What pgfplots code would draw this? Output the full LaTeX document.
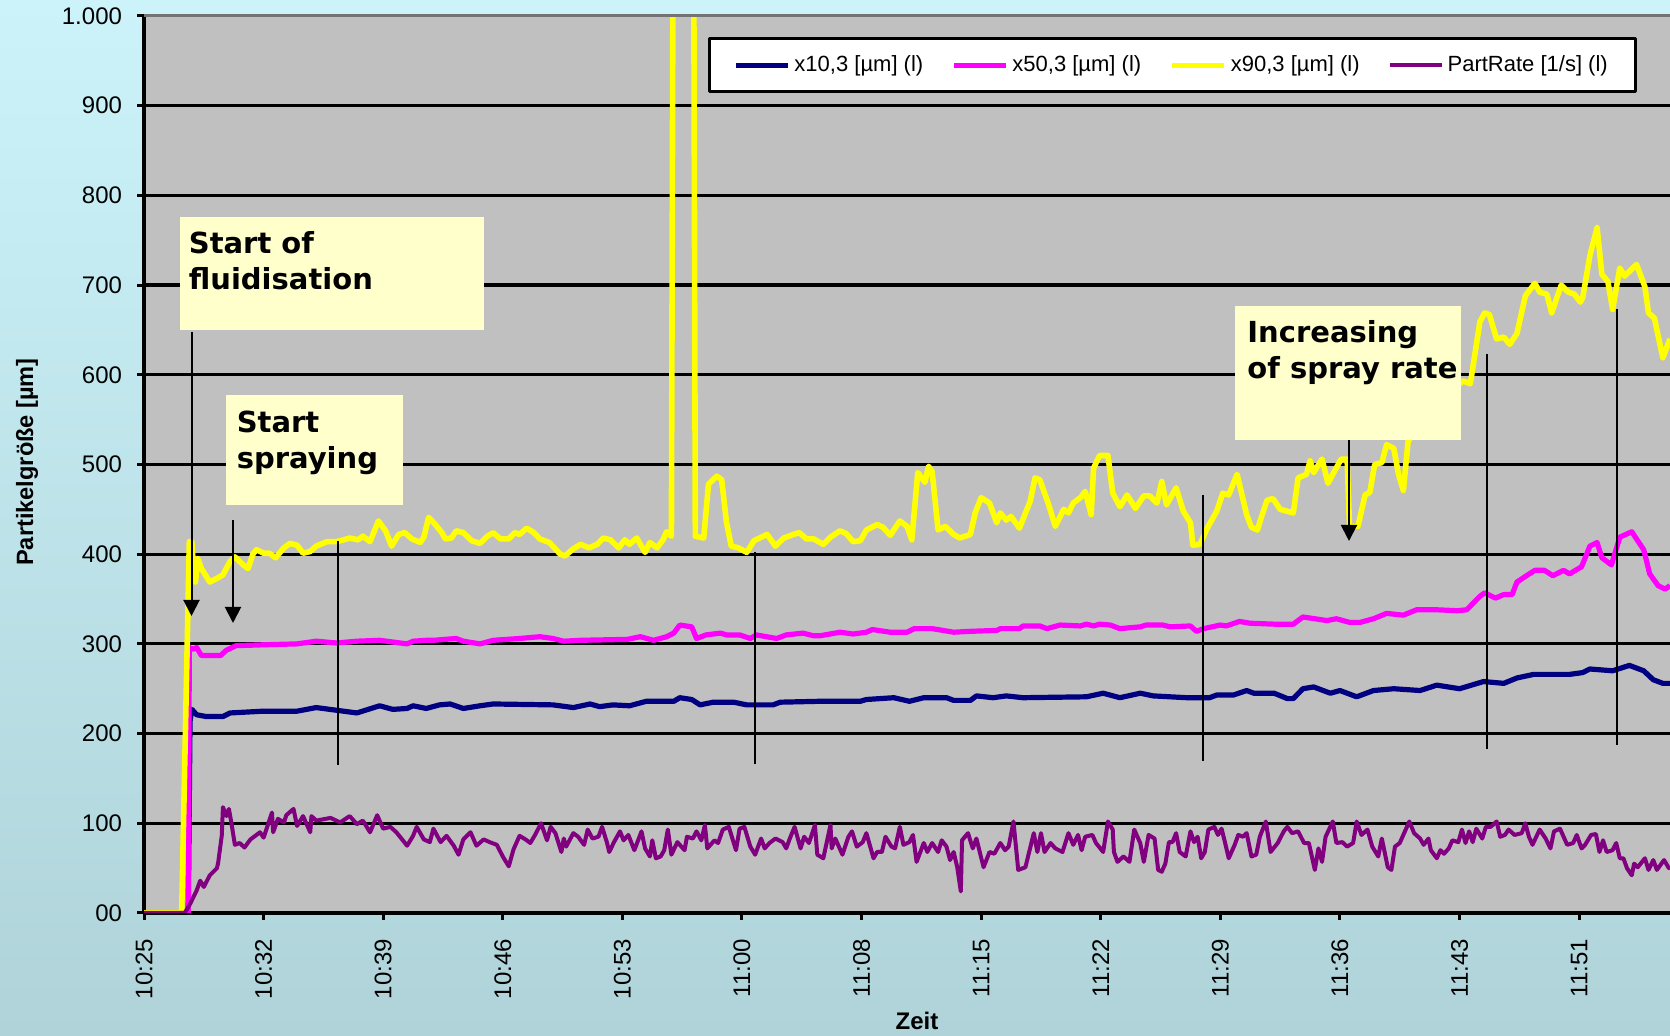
\documentclass[border=0pt]{standalone}
\usepackage{pgfplots}
\pgfplotsset{compat=1.18}
\usetikzlibrary{arrows.meta}
\usepackage{fontspec}
\setmainfont{Liberation Sans}
\newfontfamily\annotfont{DejaVu Sans}
\definecolor{bgtop}{RGB}{204,243,250}
\definecolor{bgbot}{RGB}{175,211,217}
\definecolor{plotgray}{RGB}{192,192,192}
\definecolor{notebox}{RGB}{255,255,204}
\definecolor{cnavy}{RGB}{0,0,128}
\definecolor{cmag}{RGB}{255,0,255}
\definecolor{cyel}{RGB}{255,255,0}
\definecolor{cpur}{RGB}{128,0,128}
\begin{document}
\begin{tikzpicture}[x=1bp,y=1bp]
\useasboundingbox (0,0) rectangle (835,518);
\shade[top color=bgtop, bottom color=bgbot] (0,0) rectangle (835,518);
\begin{axis}[
 at={(72bp,61.5bp)}, anchor=south west,
 scale only axis, width=763bp, height=448.5bp,
 xmin=0, xmax=12.76, ymin=0, ymax=1000,
 axis background/.style={fill=plotgray},
 axis x line*=bottom, axis y line*=left,
 axis line style={black, line width=2bp},
 xtick={0,...,12},
 xticklabels={10:25,10:32,10:39,10:46,10:53,11:00,11:08,11:15,11:22,11:29,11:36,11:43,11:51},
 ytick={0,100,...,900},
 yticklabels={00,100,200,300,400,500,600,700,800,900},
 extra y ticks={1000}, extra y tick labels={1.000}, extra y tick style={grid=none},
 ymajorgrids, major grid style={black, line width=1.6bp},
 tick align=outside, major tick length=3.5bp,
 tick style={black, line width=1.5bp},
 x tick label style={rotate=90, anchor=east, yshift=0bp, xshift=-6bp, font=\fontsize{12bp}{13bp}\selectfont},
 y tick label style={xshift=-4bp, font=\fontsize{12bp}{13bp}\selectfont},
 legend columns=4,
 legend cell align=left,
 legend style={at={(0.674,0.976)}, anchor=north, draw=black, line width=1.5bp, fill=white,
   font=\fontsize{11bp}{13bp}\selectfont, inner xsep=12bp, inner ysep=6.5bp,
   /tikz/every even column/.append style={column sep=12bp}},
 legend image code/.code={\draw[#1] (0bp,0bp) -- (26bp,0bp);},
 line join=round,
]
\addplot[cnavy, line width=2.6bp] coordinates {
(0,0) (0.31,0) (0.37,0) (0.385,214) (0.40,227) (0.44,221) (0.52,219) (0.66,219) (0.72,223) (1.0,225) (1.28,225) (1.44,229) (1.61,226) (1.78,223) (1.97,231) (2.08,227) (2.20,228) (2.25,231) (2.36,228) (2.47,232) (2.56,233) (2.67,228) (2.81,231) (2.92,233) (3.42,232) (3.59,229) (3.73,233) (3.81,230) (3.92,232) (4.06,231) (4.20,236) (4.43,236) (4.48,240) (4.58,238) (4.65,232) (4.76,235) (4.93,235) (5.04,232) (5.26,232) (5.32,235) (5.65,236) (5.99,236) (6.04,238) (6.27,240) (6.40,236) (6.52,240) (6.71,240) (6.77,237) (6.91,237) (6.96,242) (7.10,240) (7.21,242) (7.35,240) (7.88,241) (8.02,245) (8.16,240) (8.33,245) (8.44,242) (8.72,240) (8.91,240) (8.97,243) (9.11,243) (9.22,248) (9.28,245) (9.45,245) (9.56,239) (9.61,239) (9.69,250) (9.78,252) (9.92,245) (10.0,248) (10.14,241) (10.28,248) (10.45,250) (10.67,248) (10.81,254) (11.0,250) (11.20,258) (11.37,256) (11.48,262) (11.62,266) (11.92,266) (12.03,268) (12.09,272) (12.28,270) (12.42,276) (12.54,270) (12.62,260) (12.70,256) (12.76,256)
};
\addlegendentry{x10,3 [µm] (l)}
\addplot[cmag, line width=2.6bp] coordinates {
(0,0) (0.37,0) (0.379,296) (0.41,294) (0.44,296) (0.48,287) (0.64,287) (0.69,293) (0.77,298) (1.0,299) (1.28,300) (1.44,303) (1.61,301) (1.78,303) (1.97,304) (2.20,300) (2.25,303) (2.36,304) (2.42,304) (2.61,306) (2.67,303) (2.81,300) (2.92,304) (3.14,306) (3.31,308) (3.42,306) (3.51,303) (3.65,304) (4.04,305) (4.15,308) (4.26,304) (4.37,308) (4.43,312) (4.48,321) (4.58,319) (4.62,306) (4.70,310) (4.82,312) (4.87,310) (4.98,310) (5.07,306) (5.12,310) (5.29,306) (5.37,310) (5.51,312) (5.60,309) (5.65,309) (5.82,313) (5.93,311) (6.04,313) (6.09,316) (6.24,313) (6.38,313) (6.44,317) (6.59,317) (6.77,313) (6.91,314) (7.13,315) (7.16,317) (7.32,317) (7.35,320) (7.49,320) (7.55,317) (7.66,321) (7.83,320) (7.88,322) (7.94,320) (7.99,322) (8.08,321) (8.16,317) (8.33,319) (8.38,321) (8.52,321) (8.58,319) (8.75,320) (8.80,314) (8.86,317) (9.0,321) (9.05,320) (9.16,325) (9.25,323) (9.45,322) (9.61,322) (9.69,330) (9.89,326) (9.97,328) (10.08,324) (10.17,324) (10.28,328) (10.39,334) (10.53,332) (10.64,338) (10.81,338) (10.98,337) (11.06,338) (11.17,353) (11.21,357) (11.30,351) (11.37,355) (11.44,355) (11.48,369) (11.56,376) (11.63,382) (11.71,382) (11.78,376) (11.87,382) (11.92,378) (12.02,386) (12.09,409) (12.15,413) (12.19,396) (12.27,388) (12.34,419) (12.44,425) (12.54,405) (12.59,378) (12.66,365) (12.72,361) (12.76,365)
};
\addlegendentry{x50,3 [µm] (l)}
\addplot[cyel, line width=2.8bp] coordinates {
(0,0) (0.315,0) (0.379,414) (0.40,414) (0.41,392) (0.43,369) (0.45,395) (0.48,384) (0.55,369) (0.61,373) (0.66,377) (0.72,392) (0.76,397) (0.83,388) (0.87,384) (0.91,400) (0.94,405) (1.0,401) (1.05,401) (1.10,396) (1.17,407) (1.22,412) (1.28,410) (1.33,401) (1.39,403) (1.44,409) (1.53,414) (1.61,414) (1.67,416) (1.72,418) (1.79,416) (1.83,420) (1.89,414) (1.96,437) (2.02,426) (2.07,409) (2.13,422) (2.18,424) (2.24,417) (2.31,413) (2.34,419) (2.38,441) (2.43,434) (2.49,424) (2.52,417) (2.57,418) (2.61,426) (2.67,424) (2.74,415) (2.81,412) (2.87,420) (2.92,424) (2.98,417) (3.05,417) (3.10,424) (3.14,422) (3.20,429) (3.26,424) (3.31,417) (3.39,413) (3.48,400) (3.52,398) (3.58,405) (3.65,411) (3.72,407) (3.79,411) (3.84,418) (3.90,416) (3.97,407) (4.02,416) (4.06,411) (4.12,418) (4.19,402) (4.23,413) (4.29,407) (4.34,416) (4.37,425) (4.41,420) (4.43,1400) (4.59,1400) (4.61,420) (4.68,418) (4.72,478) (4.79,487) (4.83,483) (4.87,436) (4.91,409) (4.97,407) (5.04,402) (5.10,415) (5.21,422) (5.28,409) (5.35,418) (5.43,422) (5.48,424) (5.54,417) (5.60,417) (5.68,411) (5.74,419) (5.82,426) (5.87,423) (5.93,414) (5.99,415) (6.04,427) (6.13,433) (6.18,430) (6.24,421) (6.32,437) (6.38,431) (6.42,416) (6.47,491) (6.53,480) (6.56,498) (6.59,492) (6.64,427) (6.70,431) (6.77,422) (6.82,418) (6.91,422) (6.95,446) (7.00,463) (7.07,457) (7.13,435) (7.16,446) (7.21,438) (7.25,442) (7.32,429) (7.41,459) (7.45,485) (7.49,483) (7.56,457) (7.62,431) (7.69,450) (7.73,446) (7.77,457) (7.83,463) (7.87,470) (7.92,444) (7.94,496) (7.99,510) (8.06,510) (8.10,468) (8.16,453) (8.22,466) (8.29,451) (8.36,465) (8.41,465) (8.47,457) (8.51,481) (8.55,455) (8.63,474) (8.69,448) (8.75,435) (8.77,410) (8.83,411) (8.89,429) (8.97,448) (9.02,468) (9.07,466) (9.14,489) (9.22,444) (9.26,430) (9.31,427) (9.34,440) (9.39,460) (9.44,462) (9.50,450) (9.61,446) (9.65,485) (9.72,489) (9.75,504) (9.78,491) (9.85,506) (9.90,479) (9.94,489) (10.01,506) (10.06,506) (10.08,431) (10.15,431) (10.21,466) (10.25,469) (10.29,500) (10.35,502) (10.39,522) (10.45,518) (10.49,489) (10.53,471) (10.57,526) (10.75,560) (10.95,585) (11.03,593) (11.09,590) (11.17,659) (11.21,669) (11.25,667) (11.31,640) (11.37,642) (11.42,634) (11.48,646) (11.55,688) (11.63,702) (11.67,692) (11.73,690) (11.77,669) (11.85,700) (11.91,692) (11.96,690) (12.01,681) (12.03,686) (12.09,733) (12.15,764) (12.19,712) (12.24,704) (12.28,673) (12.34,719) (12.38,710) (12.48,723) (12.55,698) (12.58,669) (12.63,663) (12.65,650) (12.70,619) (12.76,640)
};
\addlegendentry{x90,3 [µm] (l)}
\addplot[cpur, line width=2bp] coordinates {
(0,0) (0.34,0) (0.385,10) (0.44,25) (0.47,36) (0.50,29) (0.55,42) (0.61,50) (0.62,56) (0.65,86) (0.66,118) (0.69,108) (0.71,116) (0.73,101) (0.76,76) (0.80,78) (0.84,73) (0.89,82) (0.97,90) (1.0,84) (1.07,112) (1.08,90) (1.12,105) (1.17,101) (1.19,109) (1.25,116) (1.28,97) (1.33,108) (1.39,90) (1.40,108) (1.44,103) (1.56,106) (1.64,101) (1.72,108) (1.78,99) (1.83,103) (1.89,90) (1.95,109) (2.0,94) (2.06,96) (2.11,90) (2.20,75) (2.25,86) (2.28,96) (2.34,82) (2.39,79) (2.42,94) (2.48,79) (2.53,86) (2.59,75) (2.63,65) (2.67,82) (2.73,90) (2.78,75) (2.84,82) (2.89,79) (2.95,76) (3.00,63) (3.05,52) (3.09,71) (3.14,86) (3.19,82) (3.23,78) (3.27,87) (3.32,100) (3.37,81)
(3.40,96) (3.44,89) (3.49,68) (3.51,83) (3.53,74) (3.59,89) (3.63,85) (3.68,76) (3.71,93) (3.75,83) (3.80,85) (3.83,96) (3.87,79) (3.89,68) (3.93,79) (3.98,91) (4.01,81) (4.05,87) (4.10,70) (4.16,91) (4.19,72) (4.23,63) (4.25,81) (4.28,61) (4.32,63) (4.35,70) (4.38,93) (4.41,65) (4.46,79) (4.52,70) (4.54,85) (4.59,83) (4.62,91) (4.66,81) (4.69,98) (4.71,72) (4.77,81) (4.80,78) (4.84,93) (4.89,96) (4.95,70) (4.98,94) (5.02,96) (5.07,74) (5.11,65) (5.16,83) (5.19,72) (5.23,78) (5.28,83) (5.34,79) (5.37,72) (5.40,83) (5.44,96) (5.49,72) (5.52,85) (5.56,78) (5.61,98) (5.63,65) (5.68,61) (5.74,98) (5.75,72) (5.78,83) (5.84,65) (5.89,85) (5.92,91) (5.96,74) (6.01,79) (6.04,89) (6.10,61) (6.13,68) (6.17,68) (6.20,85) (6.25,74) (6.28,72) (6.32,96) (6.35,76) (6.40,79) (6.43,87) (6.46,57) (6.52,78) (6.55,68) (6.59,78) (6.64,68) (6.67,81) (6.71,74) (6.74,59) (6.77,68) (6.80,51) (6.83,24) (6.84,81) (6.89,89) (6.93,72) (6.96,83) (7.02,51) (7.07,68) (7.11,66) (7.16,78) (7.20,70) (7.23,74) (7.27,102) (7.31,48) (7.37,51) (7.44,89) (7.47,68) (7.50,89) (7.53,68) (7.58,78) (7.62,72) (7.68,68) (7.73,89) (7.77,76) (7.81,87) (7.84,70) (7.87,85) (7.93,87) (7.96,78) (8.02,68) (8.06,102)
(8.10,93) (8.11,68) (8.14,57) (8.19,63) (8.24,57) (8.28,93) (8.33,78) (8.36,57) (8.40,87) (8.45,83) (8.48,48) (8.51,46) (8.54,55) (8.57,79) (8.60,79) (8.63,89) (8.66,68) (8.71,63) (8.75,91) (8.78,79) (8.81,85) (8.84,61) (8.87,68) (8.90,93) (8.95,96) (8.98,87) (9.01,94) (9.04,78) (9.07,61) (9.12,76) (9.15,87) (9.19,85) (9.22,89) (9.26,63) (9.30,65) (9.33,85) (9.38,102) (9.42,68) (9.48,78) (9.53,91) (9.56,96) (9.60,89) (9.65,91) (9.70,78) (9.74,78) (9.79,48) (9.82,72) (9.85,57) (9.88,85) (9.94,102) (9.97,78) (10.02,79) (10.06,74) (10.11,78) (10.14,102) (10.18,87) (10.23,93) (10.27,74) (10.32,63) (10.35,83) (10.40,51) (10.43,48) (10.46,74) (10.50,78) (10.58,102) (10.62,89) (10.67,83) (10.70,76) (10.74,83) (10.76,70) (10.81,61) (10.84,70) (10.87,66) (10.91,72) (10.94,81) (10.99,79) (11.02,93) (11.05,78) (11.08,91) (11.11,79) (11.14,94) (11.19,83) (11.22,96) (11.26,96) (11.31,102) (11.34,85) (11.38,87) (11.41,93) (11.46,87) (11.52,89) (11.55,100) (11.58,85) (11.61,76) (11.67,93) (11.72,83) (11.76,72) (11.79,91) (11.84,94) (11.90,76) (11.95,78) (11.98,87) (12.02,72) (12.05,76) (12.10,87) (12.14,88) (12.17,68) (12.20,81) (12.23,68) (12.28,70) (12.31,78) (12.34,61) (12.37,61) (12.40,50) (12.44,42) (12.46,55) (12.49,51) (12.55,61) (12.58,48) (12.62,59) (12.65,48) (12.71,59) (12.75,50) (12.76,52)
};
\addlegendentry{PartRate [1/s] (l)}
\end{axis}
% top border of plot area
\draw[gray!90!black, line width=1.2bp] (72,510.2) -- (835,510.2);
% annotation boxes
\fill[notebox] (90,353) rectangle (242,409.5);
\fill[notebox] (113,265.5) rectangle (201.5,320.5);
\fill[notebox] (617.5,298) rectangle (730.5,365);
\begin{scope}[every node/.style={inner sep=0pt, anchor=base west, font=\annotfont\bfseries\fontsize{14.5bp}{18bp}\selectfont}]
\node at (94.25,391.3) {Start of};
\node at (94.25,373.3) {fluidisation};
\node at (118.2,301.8) {Start};
\node at (118.2,283.8) {spraying};
\node at (623.5,346.8) {Increasing};
\node at (623.5,328.6) {of spray rate};
\end{scope}
% lines and arrows
\begin{scope}[line width=1bp, black]
\draw[-{Triangle[width=8bp,length=8bp]}] (95.75,352) -- (95.75,210);
\draw[-{Triangle[width=8bp,length=8bp]}] (116.5,258) -- (116.5,206.5);
\draw[-{Triangle[width=8bp,length=8bp]}] (674.5,298) -- (674.5,247.5);
\draw (168.8,247.5) -- (168.8,135.5);
\draw (377.5,242) -- (377.5,136);
\draw (601.5,270.5) -- (601.5,137.5);
\draw (743.5,341) -- (743.5,143.5);
\draw (808.5,363.5) -- (808.5,145.5);
\end{scope}
% axis titles
\node[rotate=90, font=\bfseries\fontsize{11.8bp}{14bp}\selectfont] at (13.5,287) {Partikelgröße [µm]};
\node[font=\bfseries\fontsize{12bp}{14bp}\selectfont] at (458.5,7.5) {Zeit};
\end{tikzpicture}
\end{document}
